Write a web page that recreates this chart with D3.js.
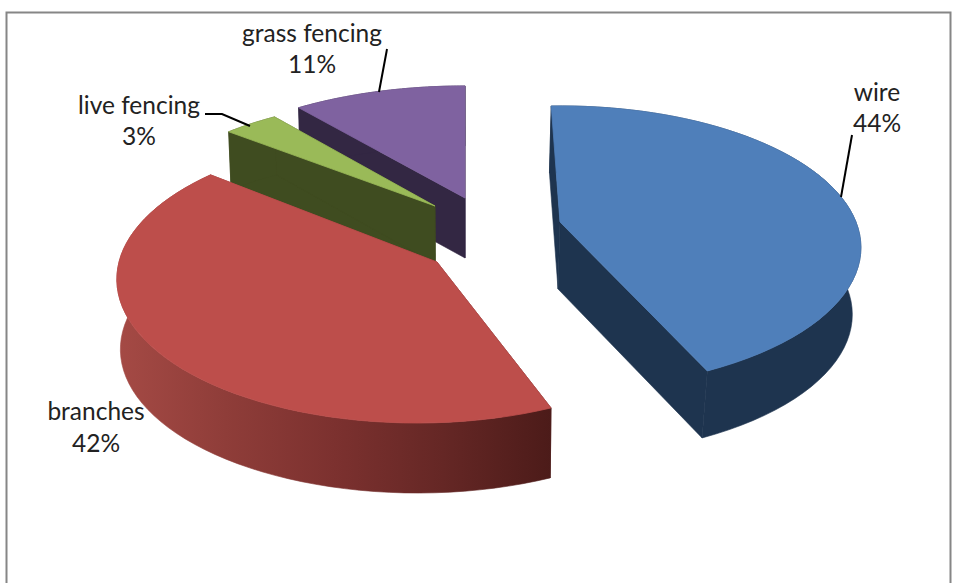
<!DOCTYPE html>
<html><head><meta charset="utf-8">
<script src="https://cdn.jsdelivr.net/npm/d3@7/dist/d3.min.js"></script>
<style>html,body{margin:0;padding:0;background:#fff}svg{display:block}text{font-family:Lato,"Open Sans",sans-serif;font-size:24.5px;fill:#222}</style>
</head><body><svg id="c" width="955" height="583"></svg>
<script>
const categories=["wire","branches","live fencing","grass fencing"];
const percents=[44,42,3,11];
const topColors=["#4f7fba","#bd4e4b","#9aba58","#7f62a0"];
const sideColors=["#1e344f","#7e3331","#3f4c20","#332743"];
// layout of each exploded slice: apex, arc-centre offset, radii, perspective, angle trim (deg), wall depth and taper
const layout=[
 {cx:560,cy:222,ox:0,rx:296,ry:137,p:.18,a0:-2,a1:-3,depth:67,shrink:.978},
 {cx:437,cy:262,ox:-20,rx:298,ry:141.7,p:.12,a0:-2,a1:2,depth:70,shrink:.99},
 {cx:435,cy:206,ox:0,rx:300,ry:126,p:.16,a0:1,a1:2.5,depth:58,shrink:.99},
 {cx:465,cy:198,ox:0,rx:300,ry:130,p:.16,a0:1,a1:0,depth:60,shrink:.99}
];
const labels=[
 {x:877,y:100.5},{x:96,y:420},{x:139,y:113.5},{x:312,y:41.5}
];
const leaders=[
 [[852,135],[841,197]],null,[[205,114],[222,114],[250,126]],[[387,49],[379,92]]
];
const vx=470;
const svg=d3.select("#c");
const defs=svg.append("defs");
const g=defs.append("linearGradient").attr("id","redWall").attr("gradientUnits","userSpaceOnUse")
 .attr("x1",116).attr("x2",552).attr("y1",0).attr("y2",0);
[[0,"#a54a45"],[.25,"#8f3d39"],[.5,"#7c312f"],[.75,"#652725"],[1,"#4c1b19"]].forEach(s=>g.append("stop").attr("offset",s[0]).attr("stop-color",s[1]));
svg.append("path").attr("d","M6.5 583V12.5H950.5V583").attr("fill","none").attr("stroke","#868686").attr("stroke-width",2);

const pie=d3.pie().sort(null).value(d=>d)(percents);
const line=d3.line();
const project=(L,t)=>{const u=Math.sin(t),v=Math.cos(t),f=1/(1+L.p*v);return [L.cx+L.ox+L.rx*u*f,L.cy-L.ry*v*f]};
// grass drawn first, branches/wire last: painter order
[3,2,1,0].forEach(i=>{
 const L=layout[i],d=pie[i],rad=Math.PI/180;
 const drop=P=>[vx+(P[0]-vx)*L.shrink,P[1]+L.depth];
 const s=d.startAngle+L.a0*rad,e=d.endAngle+L.a1*rad;
 const ts=d3.range(0,61).map(k=>s+(e-s)*k/60);
 const arc=ts.map(t=>project(L,t));
 const apex=[L.cx,L.cy];
 const layer=svg.append("g").attr("class","slice");
 const wall=i===1?"url(#redWall)":sideColors[i];
 const faces=[
  [apex,arc[0],drop(arc[0]),drop(apex)],
  [apex,arc[60],drop(arc[60]),drop(apex)],
  arc.concat(arc.slice().reverse().map(drop))
 ];
 faces.forEach(f=>layer.append("path").attr("d",line(f)+"Z").attr("fill",wall).attr("stroke",wall).attr("stroke-width",.6));
 layer.append("path").attr("d",line([apex,...arc])+"Z").attr("fill",topColors[i]).attr("stroke",topColors[i]).attr("stroke-width",.8);
});
leaders.forEach(l=>{if(l)svg.append("path").attr("d",line(l)).attr("fill","none").attr("stroke","#000").attr("stroke-width",2)});
categories.forEach((c,i)=>{
 const t=svg.append("text").attr("text-anchor","middle").attr("x",labels[i].x).attr("y",labels[i].y);
 t.append("tspan").attr("x",labels[i].x).text(c);
 t.append("tspan").attr("x",labels[i].x).attr("dy",31.5).text(percents[i]+"%");
});
</script></body></html>
